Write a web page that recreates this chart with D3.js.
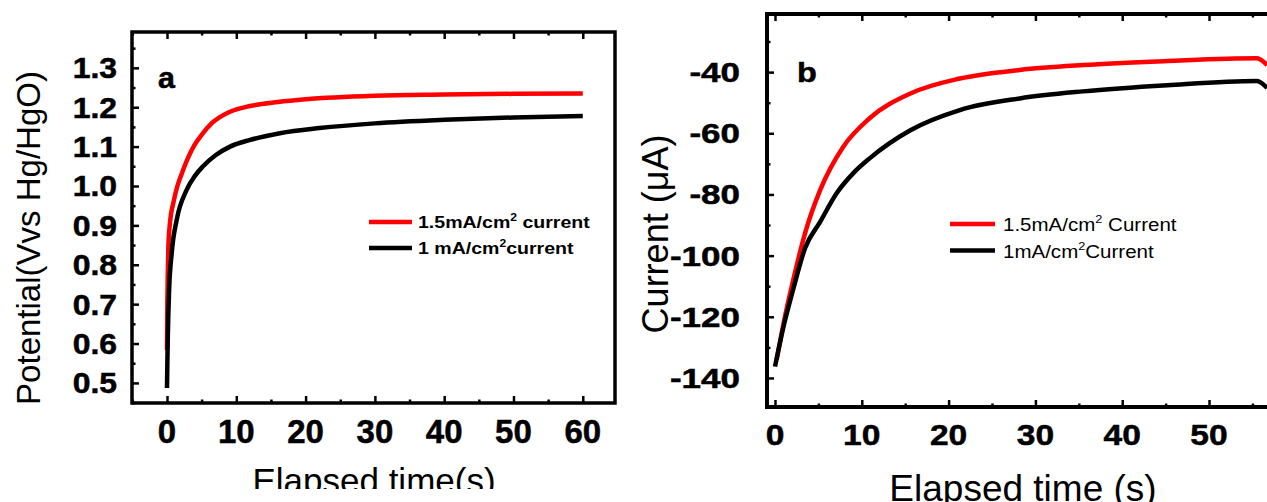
<!DOCTYPE html>
<html><head><meta charset="utf-8">
<script src="https://cdn.jsdelivr.net/npm/d3@7"></script>
<style>body{margin:0;background:#fff}svg{display:block}text{font-family:"Liberation Sans",Arial,Helvetica,sans-serif;fill:#000}</style>
</head><body><svg id="c" width="1267" height="502"></svg>
<script>
// ---------- data: panel a (potential vs time) ----------
const timeA_red   = [0, 0.05, 0.12, 0.2, 0.45, 0.9, 1.5, 2.1, 3, 4, 5, 6.5, 9, 12, 16, 20, 30, 40, 50, 60];
const potA_red    = [0.584, 0.70, 0.78, 0.846, 0.91, 0.956, 1.0, 1.03, 1.07, 1.105, 1.13, 1.16, 1.188, 1.203, 1.213, 1.22, 1.229, 1.232, 1.234, 1.235];
const timeA_black = [0, 0.05, 0.12, 0.29, 0.68, 1.4, 2.84, 4, 5.2, 7, 9.1, 12, 16.3, 22, 30, 40, 50, 60];
const potA_black  = [0.487, 0.55, 0.62, 0.728, 0.83, 0.914, 0.99, 1.025, 1.05, 1.078, 1.10, 1.117, 1.134, 1.147, 1.159, 1.168, 1.174, 1.178];
// ---------- data: panel b (current vs time) ----------
const timeB_red   = [0.2, 1.0, 2.1, 3.46, 5.2, 7.87, 10.9, 15.6, 21.3, 28.2, 35.5, 45.2, 55.5, 56.7];
const curB_red    = [-134, -122, -108, -92.7, -78.6, -64.4, -55.1, -47, -42.1, -39.3, -37.7, -36.4, -35.5, -37.7];
const timeB_black = [0, 1.0, 2.1, 3.46, 5.2, 7.1, 9.0, 10.9, 15.6, 21.3, 28.2, 35.5, 45.2, 55.5, 56.7];
const curB_black  = [-136.3, -123, -111, -97.6, -89, -79.6, -73.1, -68.2, -59, -52.4, -48.6, -46.3, -44.3, -42.9, -45.2];
// ---------- ticks & labels ----------
const ticksA_x = [0, 10, 20, 30, 40, 50, 60];
const ticksA_y = [0.5, 0.6, 0.7, 0.8, 0.9, 1.0, 1.1, 1.2, 1.3];
const ticksB_x = [0, 10, 20, 30, 40, 50];
const ticksB_y = [-140, -120, -100, -80, -60, -40];
const legendA = [["1.5mA/cm", "2", " current"], ["1 mA/cm", "2", "current"]];
const legendB = [["1.5mA/cm", "2", " Current"], ["1mA/cm", "2", "Current"]];
const seriesColors = ["#ff0000", "#000000"];

const svg = d3.select("#c");

function stext(parent, x, y, str, size, weight, anchor, sx, rot) {
  const t = parent.append("text")
    .attr("transform", `translate(${x},${y})` + (rot ? ` rotate(${rot})` : "") + ` scale(${sx},1)`)
    .attr("font-size", size).attr("font-weight", weight).attr("text-anchor", anchor);
  if (weight === "bold") t.attr("stroke", "#000").attr("stroke-width", 0.5);
  t.text(str);
  return t;
}
function supText(parent, x, y, parts, size, weight, sx) {
  const t = parent.append("text")
    .attr("transform", `translate(${x},${y}) scale(${sx},1)`)
    .attr("font-size", size).attr("font-weight", weight);
  t.append("tspan").text(parts[0]);
  t.append("tspan").attr("font-size", size * 0.62).attr("dy", -size * 0.42).text(parts[1]);
  t.append("tspan").attr("dy", size * 0.42).text(parts[2]);
}
function minorVals(d0, d1, step) {
  const out = [];
  const start = Math.ceil(d0 / step - 1e-9);
  for (let k = start; k * step <= d1 + 1e-9; k++) out.push(+(k * step).toFixed(6));
  return out;
}
function drawAxes(x, y, xMaj, xMin, yMaj, yMin, frameW) {
  const [X0, X1] = x.range(), [Y1, Y0] = y.range();
  const g = svg.append("g");
  const mk = (axis, tr) => {
    const a = g.append("g").attr("transform", tr).call(axis);
    a.select(".domain").remove();
    a.selectAll("line").attr("stroke", "#000").attr("stroke-width", 2.5);
  };
  mk(d3.axisBottom(x).tickValues(xMaj).tickSize(-7).tickFormat(""), `translate(0,${Y1})`);
  mk(d3.axisBottom(x).tickValues(xMin).tickSize(-3.5).tickFormat(""), `translate(0,${Y1})`);
  mk(d3.axisTop(x).tickValues(xMaj).tickSize(-7).tickFormat(""), `translate(0,${Y0})`);
  mk(d3.axisTop(x).tickValues(xMin).tickSize(-3.5).tickFormat(""), `translate(0,${Y0})`);
  mk(d3.axisLeft(y).tickValues(yMaj).tickSize(-7).tickFormat(""), `translate(${X0},0)`);
  mk(d3.axisLeft(y).tickValues(yMin).tickSize(-3.5).tickFormat(""), `translate(${X0},0)`);
  g.append("rect").attr("x", X0).attr("y", Y0).attr("width", X1 - X0).attr("height", Y1 - Y0)
    .attr("fill", "none").attr("stroke", "#000").attr("stroke-width", frameW);
}
function drawLine(x, y, ts, vs, color, w) {
  const pts = ts.map((t, i) => [t, vs[i]]);
  svg.append("path").datum(pts)
    .attr("d", d3.line().x(d => x(d[0])).y(d => y(d[1])).curve(d3.curveMonotoneX))
    .attr("fill", "none").attr("stroke", color).attr("stroke-width", w)
    .attr("stroke-linejoin", "round");
}

// ================= Panel a =================
const xA = d3.scaleLinear().domain([-5.05, 64.65]).range([132, 615]);
const yA = d3.scaleLinear().domain([0.449, 1.391]).range([403, 32]);
drawAxes(xA, yA, ticksA_x, minorVals(-5, 64.6, 5).filter(v => v % 10 !== 0),
  ticksA_y, minorVals(0.45, 1.39, 0.05).filter(v => !ticksA_y.some(t => Math.abs(t - v) < 1e-6)), 3.5);
drawLine(xA, yA, timeA_red, potA_red, seriesColors[0], 4.5);
drawLine(xA, yA, timeA_black, potA_black, seriesColors[1], 4.5);
ticksA_y.forEach(v => stext(svg, 117, yA(v) + 10.4, v.toFixed(1), 29, "bold", "end", 1.1));
ticksA_x.forEach(v => stext(svg, xA(v), 443, String(v), 33, "bold", "middle", 1.0));
stext(svg, 158, 88, "a", 29, "bold", "start", 1.05);
stext(svg, 40, 238, "Potential(Vvs Hg/HgO)", 33, "normal", "middle", 1.0, -90);
svg.append("clipPath").attr("id", "clipA").append("rect").attr("x", 0).attr("y", 0).attr("width", 640).attr("height", 489);
stext(svg.append("g").attr("clip-path", "url(#clipA)"), 374, 493, "Elapsed time(s)", 35, "normal", "middle", 1.0);
legendA.forEach((parts, i) => {
  const ly = [222, 248][i];
  svg.append("line").attr("x1", 369).attr("x2", 412).attr("y1", ly).attr("y2", ly)
    .attr("stroke", seriesColors[i]).attr("stroke-width", 4.5);
  supText(svg, 418, ly + 6, parts, 17, "bold", 1.15);
});

// ================= Panel b =================
const xB = d3.scaleLinear().domain([-0.92, 57.6]).range([767, 1275]);
const yB = d3.scaleLinear().domain([-149.5, -21]).range([407, 14]);
drawAxes(xB, yB, ticksB_x, minorVals(-0.9, 57.6, 5).filter(v => v % 10 !== 0),
  ticksB_y, minorVals(-149, -21, 10).filter(v => v % 20 !== 0), 4);
drawLine(xB, yB, timeB_red, curB_red, seriesColors[0], 4.5);
drawLine(xB, yB, timeB_black, curB_black, seriesColors[1], 4.5);
ticksB_y.forEach(v => stext(svg, 740, yB(v) + 10, String(v), 28, "bold", "end", 1.25));
ticksB_x.forEach(v => stext(svg, xB(v), 445, String(v), 30, "bold", "middle", 1.12));
stext(svg, 797, 82, "b", 27, "bold", "start", 1.2);
stext(svg, 668, 234, "Current (\u03bcA)", 36, "normal", "middle", 1.0, -90);
stext(svg, 1023, 501, "Elapsed time (s)", 37, "normal", "middle", 1.0);
legendB.forEach((parts, i) => {
  const ly = [224, 250.5][i];
  svg.append("line").attr("x1", 950).attr("x2", 995).attr("y1", ly).attr("y2", ly)
    .attr("stroke", seriesColors[i]).attr("stroke-width", 4.5);
  supText(svg, 1003, ly + 7, parts, 19, "normal", 1.08);
});
</script></body></html>
